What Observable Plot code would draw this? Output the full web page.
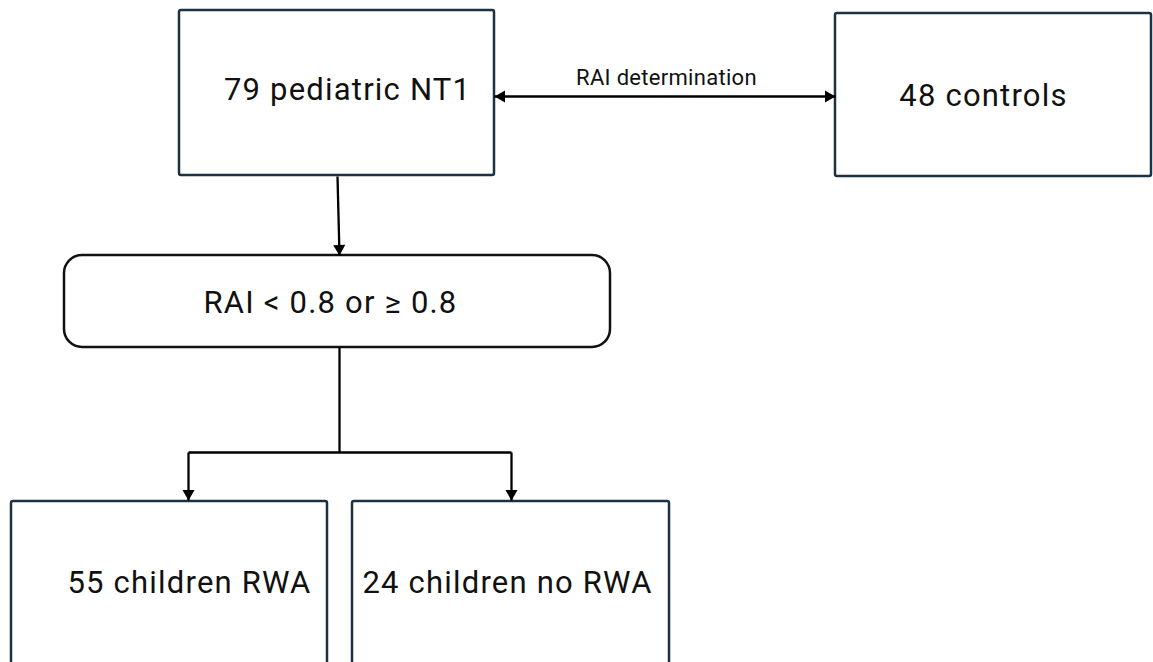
<!DOCTYPE html>
<html>
<head>
<meta charset="utf-8">
<script src="https://cdn.jsdelivr.net/npm/d3@7"></script>
<script src="https://cdn.jsdelivr.net/npm/@observablehq/plot@0.6"></script>
<style>
  html, body { margin: 0; padding: 0; background: #ffffff; overflow: hidden; }
  #chart svg { display: block; }
  #chart g[aria-label="text"] text { letter-spacing: 1.2px; }
  #chart g[aria-label="text"].edge-label text { letter-spacing: 0.3px; }
</style>
</head>
<body>
<div id="chart"></div>
<script>
// ---- Flowchart content (data units = pixels of the 1153x662 canvas) ----
const boxLabels  = ["79 pediatric NT1", "48 controls", "RAI < 0.8 or \u2265 0.8", "55 children RWA", "24 children no RWA"];
const boxKind    = ["square", "square", "rounded", "square", "square"];
const boxLeft    = [179, 835, 64, 11, 352];
const boxRight   = [494, 1151, 610, 327, 669];
const boxTop     = [10, 13, 255, 501, 501];
const boxBottom  = [175, 176, 347, 668, 668];
const labelX     = [347, 983, 330, 189, 507];
const labelY     = [90, 96, 303, 583, 583];

const edgeLabel  = ["RAI determination"];
const edgeLabelX = [666];
const edgeLabelY = [77];

// connector segments: start, end, arrow heads at start/end
const segX1   = [494, 337, 339, 188, 188, 511];
const segY1   = [96, 176, 347, 452, 452, 452];
const segX2   = [835, 339, 339, 511, 188, 511];
const segY2   = [96, 255, 452, 452, 500, 500];
const headAtStart = [true, false, false, false, false, false];
const headAtEnd   = [true, true, false, false, true, true];

// ---- build tables ----
const boxes = boxLabels.map((label, i) => ({
  label, kind: boxKind[i],
  x1: boxLeft[i], x2: boxRight[i], y1: boxTop[i], y2: boxBottom[i],
  lx: labelX[i], ly: labelY[i]
}));
const segments = segX1.map((x1, i) => ({x1, y1: segY1[i], x2: segX2[i], y2: segY2[i]}));

// arrow heads: tip position + direction (unit vector)
const heads = [];
segments.forEach((s, i) => {
  const len = Math.hypot(s.x2 - s.x1, s.y2 - s.y1);
  const ux = (s.x2 - s.x1) / len, uy = (s.y2 - s.y1) / len;
  if (headAtEnd[i]) heads.push({tx: s.x2, ty: s.y2, ux, uy});
  if (headAtStart[i]) heads.push({tx: s.x1, ty: s.y1, ux: -ux, uy: -uy});
});
const headR = 4.5;
const tipOffset = 2 * Math.sqrt(Math.PI * headR * headR / (3 * Math.sqrt(3)));
heads.forEach(h => {
  h.cx = h.tx - h.ux * tipOffset;
  h.cy = h.ty - h.uy * tipOffset;
  h.rot = Math.atan2(h.ux, -h.uy) * 180 / Math.PI;
});

const FONT = "Roboto, 'Liberation Sans', sans-serif";

const chart = Plot.plot({
  width: 1153,
  height: 662,
  margin: 0,
  x: {domain: [0, 1153], range: [0, 1153], axis: null},
  y: {domain: [0, 662], range: [0, 662], axis: null},
  marks: [
    Plot.rect(boxes.filter(d => d.kind === "square"), {
      x1: "x1", x2: "x2", y1: "y1", y2: "y2",
      fill: "white", stroke: "#1c3141", strokeWidth: 2.5, rx: 2
    }),
    Plot.rect(boxes.filter(d => d.kind === "rounded"), {
      x1: "x1", x2: "x2", y1: "y1", y2: "y2",
      fill: "white", stroke: "#111111", strokeWidth: 2.5, rx: 18
    }),
    Plot.link(segments, {
      x1: "x1", y1: "y1", x2: "x2", y2: "y2",
      stroke: "#000000", strokeWidth: 2.3
    }),
    Plot.dot(heads, {
      x: "cx", y: "cy", rotate: "rot", symbol: "triangle", r: headR,
      fill: "#000000", stroke: "none"
    }),
    Plot.text(boxes, {
      x: "lx", y: "ly", text: "label",
      fontFamily: FONT, fontSize: 31, fill: "#111111",
      textAnchor: "middle", lineAnchor: "middle"
    }),
    Plot.text(edgeLabel.map((t, i) => ({t, x: edgeLabelX[i], y: edgeLabelY[i]})), {
      x: "x", y: "y", text: "t",
      fontFamily: FONT, fontSize: 22, fill: "#111111",
      textAnchor: "middle", lineAnchor: "middle"
    })
  ]
});
const textGroups = chart.querySelectorAll('g[aria-label="text"]');
if (textGroups.length > 1) textGroups[textGroups.length - 1].classList.add("edge-label");
document.getElementById("chart").appendChild(chart);
</script>
</body>
</html>
